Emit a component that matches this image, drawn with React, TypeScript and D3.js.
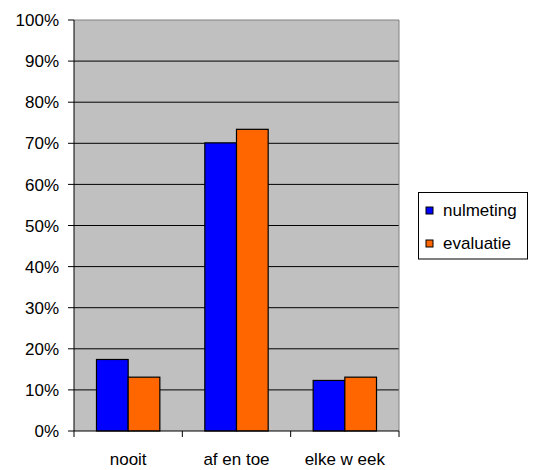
import React from 'react'
import * as d3 from 'd3'

const categories = ['nooit', 'af en toe', 'elke w eek']
const seriesNames = ['nulmeting', 'evaluatie']
const nulmeting = [17.4, 70.1, 12.3]
const evaluatie = [13.1, 73.4, 13.1]
const yTicks = [0, 10, 20, 30, 40, 50, 60, 70, 80, 90, 100]
const colors = ['#0000FF', '#FF6600']

export default function App() {
  const width = 533
  const height = 470
  const left = 74
  const right = 399
  const top = 20
  const bottom = 431

  const x = d3.scaleBand().domain(categories).range([left, right])
  const inner = d3.scaleBand().domain(seriesNames).range([0, x.bandwidth()]).paddingOuter(0.71).paddingInner(0)
  const y = d3.scaleLinear().domain([0, 100]).range([bottom, top])
  const values = [nulmeting, evaluatie]
  const font = 'Liberation Sans, Arial, sans-serif'

  return (
    <svg width={width} height={height} style={{ position: 'absolute', left: 0, top: 0, background: '#fff' }}>
      <rect x={left} y={top} width={right - left} height={bottom - top} fill="#C0C0C0" />
      {yTicks.slice(1).map(t => (
        <line key={t} x1={left} x2={right} y1={y(t)} y2={y(t)} stroke={t === 100 ? '#808080' : '#000'} strokeWidth={1} />
      ))}
      <line x1={right} x2={right} y1={top} y2={bottom} stroke="#808080" />
      {values.map((vals, si) =>
        categories.map((c, ci) => (
          <rect
            key={`${si}-${ci}`}
            x={(x(c) ?? 0) + (inner(seriesNames[si]) ?? 0)}
            y={y(vals[ci])}
            width={inner.bandwidth()}
            height={bottom - y(vals[ci])}
            fill={colors[si]}
            stroke="#000"
            strokeWidth={1.2}
          />
        ))
      )}
      <line x1={left} x2={left} y1={top} y2={bottom} stroke="#000" />
      <line x1={left} x2={right} y1={bottom} y2={bottom} stroke="#000" />
      {yTicks.map(t => (
        <g key={t}>
          <line x1={left - 6} x2={left} y1={y(t)} y2={y(t)} stroke="#000" />
          <text x={59} y={y(t)} dy="0.36em" textAnchor="end" fontFamily={font} fontSize={17}>{t}%</text>
        </g>
      ))}
      {[...categories.map(c => x(c) ?? 0), right].map((p, i) => (
        <line key={i} x1={p} x2={p} y1={bottom} y2={bottom + 6} stroke="#000" />
      ))}
      {categories.map(c => (
        <text key={c} x={(x(c) ?? 0) + x.bandwidth() / 2} y={465} textAnchor="middle" fontFamily={font} fontSize={17} style={{ whiteSpace: 'pre' }}>{c}</text>
      ))}
      <rect x={418.5} y={192.5} width={109} height={66.5} fill="#fff" stroke="#000" />
      {seriesNames.map((s, i) => (
        <g key={s}>
          <rect x={426} y={207 + i * 33} width={7} height={7} fill={colors[i]} stroke="#000" />
          <text x={443} y={215.5 + i * 33} fontFamily={font} fontSize={17}>{s}</text>
        </g>
      ))}
    </svg>
  )
}
